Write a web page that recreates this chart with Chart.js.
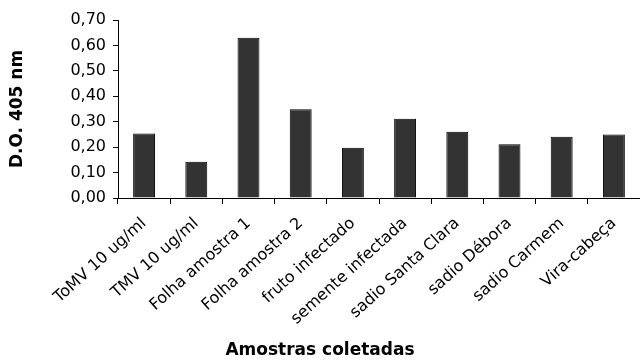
<!DOCTYPE html>
<html>
<head>
<meta charset="utf-8">
<script src="https://cdn.jsdelivr.net/npm/chart.js@4"></script>
<style>
  html, body { margin: 0; padding: 0; background: #fff; }
  canvas { display: block; }
</style>
</head>
<body>
<canvas id="myChart" width="640" height="364"></canvas>
<script>
const samples = ['ToMV 10 ug/ml', 'TMV 10 ug/ml', 'Folha amostra 1', 'Folha amostra 2', 'fruto infectado',
  'semente infectada', 'sadio Santa Clara', 'sadio Débora', 'sadio Carmem', 'Vira-cabeça'];
const absorbance = [0.254, 0.143, 0.63, 0.349, 0.198, 0.312, 0.261, 0.211, 0.241, 0.25];
const yTicks = [0, 0.1, 0.2, 0.3, 0.4, 0.5, 0.6, 0.7];

const ctx = document.getElementById('myChart').getContext('2d');
const fontFamily = '"DejaVu Sans", Arial, sans-serif';

new Chart(ctx, {
  type: 'bar',
  data: {
    labels: samples,
    datasets: [{
      label: 'D.O. 405 nm',
      data: absorbance,
      backgroundColor: '#333333',
      borderColor: '#000000',
      borderWidth: 1,
      categoryPercentage: 1,
      barPercentage: 0.42
    }]
  },
  options: {
    responsive: false,
    animation: false,
    layout: { padding: { top: 20, right: 0, bottom: 0, left: 0 } },
    plugins: {
      legend: { display: false },
      tooltip: { enabled: false },
      title: {
        display: true,
        position: 'bottom',
        text: 'Amostras coletadas',
        color: '#000',
        font: { family: fontFamily, size: 17, weight: 'bold' },
        padding: { top: 0, bottom: 3 }
      }
    },
    scales: {
      x: {
        grid: { display: true, drawOnChartArea: false, drawTicks: true, tickLength: 6, color: '#000' },
        border: { display: true, color: '#000', width: 1 },
        ticks: {
          color: '#000',
          font: { family: fontFamily, size: 16 },
          minRotation: 42,
          maxRotation: 42,
          padding: 10,
          autoSkip: false
        },
        afterFit: (scale) => { scale.height = 142.6; }
      },
      y: {
        min: 0,
        max: 0.7,
        grid: { display: true, drawOnChartArea: false, drawTicks: true, tickLength: 5, color: '#000' },
        border: { display: true, color: '#000', width: 1 },
        afterBuildTicks: (scale) => { scale.ticks = yTicks.map(v => ({ value: v })); },
        ticks: {
          color: '#000',
          font: { family: fontFamily, size: 16 },
          padding: 7,
          callback: (v) => Number(v).toFixed(2).replace('.', ',')
        },
        title: {
          display: true,
          text: 'D.O. 405 nm',
          color: '#000',
          font: { family: fontFamily, size: 17, weight: 'bold' },
          padding: { top: 7, bottom: 0 }
        },
        afterFit: (scale) => { scale.width = 118; }
      }
    }
  }
});
</script>
</body>
</html>
